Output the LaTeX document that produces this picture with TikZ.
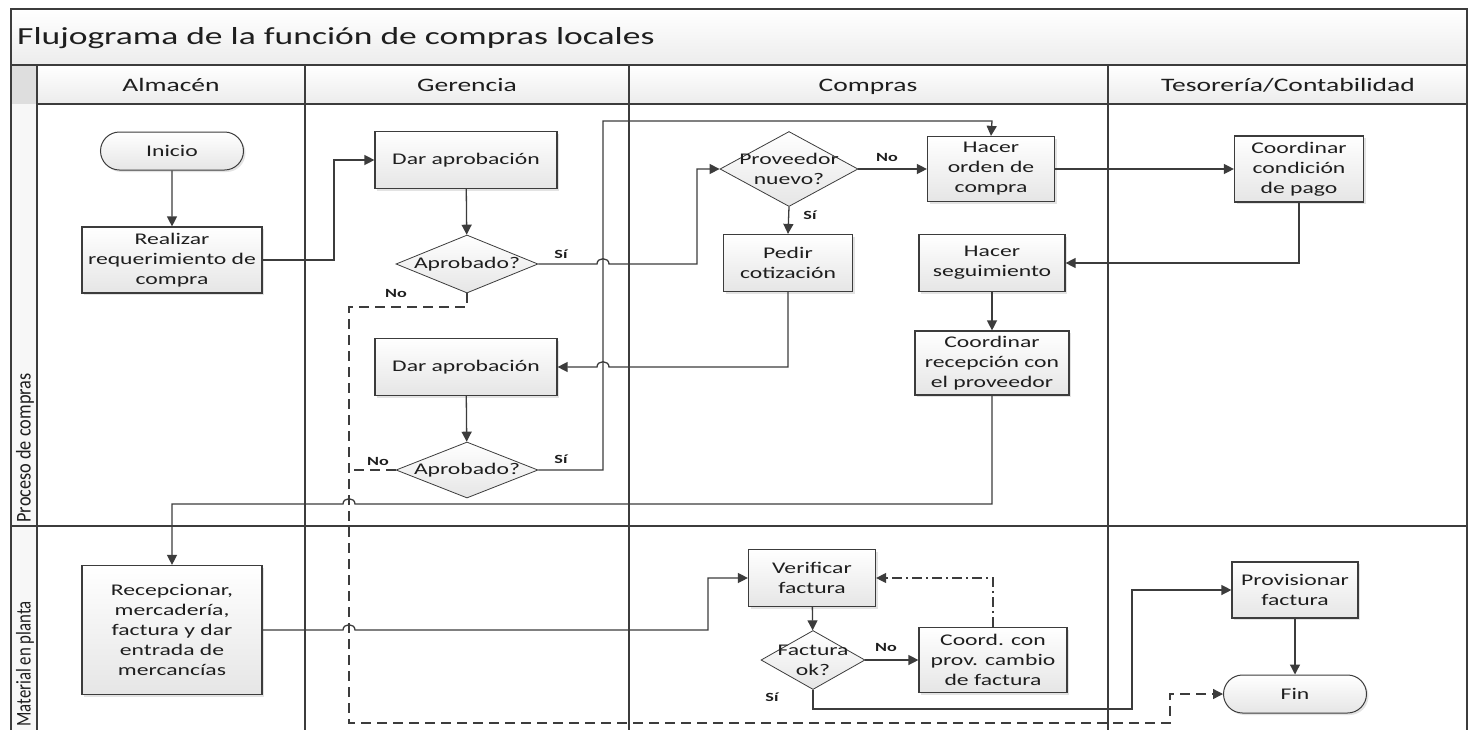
\documentclass[tikz,border=0pt]{standalone}
\usepackage{fontspec}
\setmainfont{Carlito}[FakeStretch=1.45]
\newfontfamily\lanefont{Carlito}[FakeStretch=0.87]
\newfontfamily\lanefontb{Carlito}[FakeStretch=0.8]
\usetikzlibrary{arrows.meta,shapes.geometric,shapes.misc,shadows}

\definecolor{ink}{HTML}{3C3C3C}
\definecolor{txt}{HTML}{1E1E1E}
\definecolor{bandtop}{HTML}{FFFFFF}
\definecolor{bandbot}{HTML}{ECECEC}

\begin{document}
\begin{tikzpicture}[x=1pt,y=-1pt,
  every node/.style={text=txt},
  boxfont/.style={font=\fontsize{16.3}{20}\selectfont},
  hdrfont/.style={font=\fontsize{19}{22}\selectfont},
  lbl/.style={font=\fontsize{12.5}{14}\selectfont\bfseries, inner sep=0pt},
  frame/.style={draw=ink, line width=1.4pt},
  shade/.style={top color=white, bottom color=black!10},
  shadowed/.style={drop shadow={shadow xshift=2pt, shadow yshift=-2pt, opacity=0.22}},
  proc/.style={rectangle, draw=ink, line width=1.2pt, shade, shadowed,
    inner sep=0pt, align=center, boxfont},
  term/.style={rounded rectangle, draw=ink, line width=1.0pt, shade, shadowed,
    inner sep=0pt, boxfont, minimum width=143pt, minimum height=38pt},
  decision/.style={diamond, draw=ink, line width=0.8pt, shade, inner sep=0pt},
  dtext/.style={boxfont, align=center},
  line/.style={draw=ink, line width=1.3pt},
  arr/.style={line, -{Triangle[length=10pt,width=10pt]}},
  dashline/.style={line, dash pattern=on 10pt off 6pt},
  dashdot/.style={line, dash pattern=on 10pt off 4pt on 2pt off 4pt}
]
\useasboundingbox (0,0) rectangle (1470,729);
\clip (0,0) rectangle (1470,729);
\fill[white] (0,0) rectangle (1470,729);

% ---- swimlane frame ----
\shade[top color=bandtop, bottom color=bandbot] (11,9) rectangle (1467,65);
\shade[top color=bandtop, bottom color=bandbot] (37,65) rectangle (1467,104);
\fill[black!13] (11,65) rectangle (37,104);
\fill[black!3] (11,104) rectangle (37,760);
\draw[frame] (11,9) rectangle (1467,760);
\draw[frame] (11,65) -- (1467,65);
\draw[frame] (37,104) -- (1467,104);
\draw[frame] (37,65) -- (37,760);
\draw[frame] (305,65) -- (305,760);
\draw[frame] (629,65) -- (629,760);
\draw[frame] (1108,65) -- (1108,760);
\draw[frame] (11,526) -- (1467,526);

\node[anchor=base west, font=\fontsize{24.5}{28}\selectfont, inner sep=0pt] (title) at (17,44)
  {Flujograma de la función de compras locales};

\node[hdrfont, anchor=base] (h1) at (171,91) {Almacén};
\node[hdrfont, anchor=base] (h2) at (467,91) {Gerencia};
\node[hdrfont, anchor=base] (h3) at (868,91) {Compras};
\node[hdrfont, anchor=base] (h4) at (1288,91) {Tesorería/Contabilidad};

\node[rotate=90, font=\lanefont\fontsize{21}{24}\selectfont, inner sep=0pt] (lane1) at (25,448) {Proceso de compras};
\node[rotate=90, font=\lanefontb\fontsize{21}{24}\selectfont, inner sep=0pt] (lane2) at (25,664) {Material en planta};

% ---- process nodes ----
\node[term] (ini) at (172,151) {Inicio};
\node[proc, minimum width=180pt, minimum height=66pt] (req) at (172,260)
  {Realizar\\requerimiento de\\compra};
\node[proc, minimum width=182pt, minimum height=57pt] (ap1) at (466,160) {Dar aprobación};
\node[decision, minimum width=142pt, minimum height=58pt,
  label={[dtext]center:Aprobado?}] (q1) at (467,264) {};
\node[proc, minimum width=182pt, minimum height=57pt] (ap2) at (466,367) {Dar aprobación};
\node[decision, minimum width=142pt, minimum height=56pt,
  label={[dtext]center:Aprobado?}] (q2) at (467,470) {};

\node[decision, minimum width=138pt, minimum height=75pt,
  label={[dtext]center:Proveedor\\nuevo?}] (prov) at (789,169) {};
\node[proc, minimum width=127pt, minimum height=65pt] (orden) at (991,169)
  {Hacer\\orden de\\compra};
\node[proc, minimum width=129pt, minimum height=57pt] (cotiz) at (788,263)
  {Pedir\\cotización};
\node[proc, minimum width=129pt, minimum height=66pt] (pago) at (1299,169)
  {Coordinar\\condición\\de pago};
\node[proc, minimum width=146pt, minimum height=57pt] (segui) at (992,263)
  {Hacer\\seguimiento};
\node[proc, minimum width=154pt, minimum height=64pt] (recep) at (992,363)
  {Coordinar\\recepción con\\el proveedor};

\node[proc, minimum width=180pt, minimum height=129pt] (merc) at (172,630)
  {Recepcionar,\\mercadería,\\factura y dar\\entrada de\\mercancías};
\node[proc, minimum width=127pt, minimum height=57pt] (verif) at (812,578)
  {Verificar\\factura};
\node[decision, minimum width=104pt, minimum height=59pt,
  label={[dtext]center:Factura\\ok?}] (fok) at (813,660) {};
\node[proc, minimum width=148pt, minimum height=65pt] (coord) at (993,660)
  {Coord. con\\prov. cambio\\de factura};
\node[proc, minimum width=126pt, minimum height=56pt] (provis) at (1295,590)
  {Provisionar\\factura};
\node[term] (fin) at (1295,694) {Fin};

% ---- connectors ----
\draw[arr] (ini) -- (req);
\draw[arr] (req.east) -- (334,260) |- (ap1.west);
\draw[arr] (ap1) -- (q1);
\draw[arr] (q1.east) -- (597,264) .. controls (597,257) and (609,257) .. (609,264)
  -- (697,264) |- (prov.west);
\draw[dashline, -{Triangle[length=10pt,width=10pt]}] (q1.south) -- (467,307) -| (349,723)
  -- (1170,723) |- (fin.west);
\draw[arr] (ap2) -- (q2);
\draw[dashline] (q2.west) -- (349,470);
\draw[arr] (q2.east) -- (603,470) |- (992,121) -- (orden.north);
\draw[arr] (prov.east) -- (orden.west);
\draw[arr] (prov.south) -- (cotiz.north);
\draw[arr] (cotiz.south) |- (609,367) .. controls (609,360) and (597,360) .. (597,367)
  -- (ap2.east);
\draw[arr] (orden.east) -- (pago.west);
\draw[arr] (pago.south) |- (segui.east);
\draw[arr] (segui) -- (recep);
\draw[arr] (recep.south) |- (355,504) .. controls (355,497) and (343,497) .. (343,504)
  -| (merc.north);
\draw[arr] (merc.east) -- (343,630) .. controls (343,623) and (355,623) .. (355,630)
  -- (708,630) |- (verif.west);
\draw[arr] (verif) -- (fok);
\draw[arr] (fok.east) -- (coord.west);
\draw[dashdot, -{Triangle[length=10pt,width=10pt]}] (coord.north) |- (verif.east);
\draw[arr] (fok.south) |- (1132,709) |- (provis.west);
\draw[arr] (provis) -- (fin);

% ---- branch labels ----
\node[lbl] (s1) at (561,254) {Sí};
\node[lbl] (n1) at (396,293) {No};
\node[lbl] (s2) at (561,459) {Sí};
\node[lbl] (n2) at (378,461) {No};
\node[lbl] (n3) at (887,157) {No};
\node[lbl] (s3) at (810,215) {Sí};
\node[lbl] (n4) at (886,647) {No};
\node[lbl] (s4) at (772,697) {Sí};
\end{tikzpicture}
\end{document}
